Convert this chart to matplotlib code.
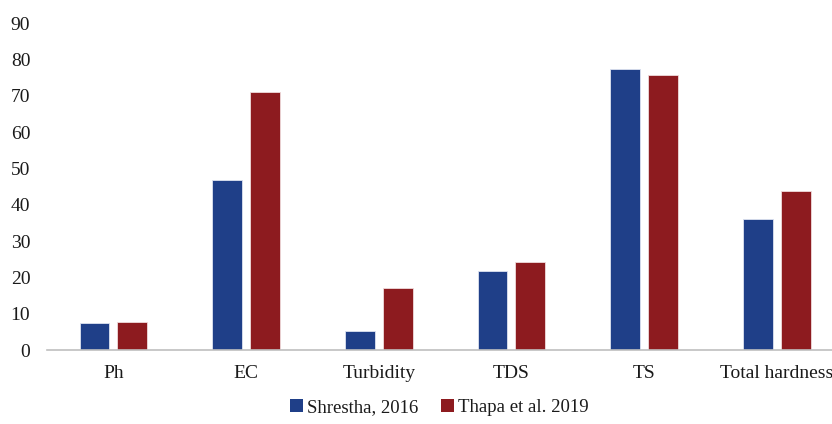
import matplotlib
matplotlib.use("Agg")
import matplotlib.pyplot as plt
import numpy as np
from matplotlib.patches import Patch

categories = ["Ph", "EC", "Turbidity", "TDS", "TS", "Total hardness"]
shrestha_2016 = [7.4, 46.8, 5.3, 21.8, 77.3, 36.1]
thapa_2019 = [7.8, 70.9, 17.1, 24.3, 75.6, 43.8]
series_labels = ["Shrestha, 2016", "Thapa et al. 2019"]
y_ticks = [0, 10, 20, 30, 40, 50, 60, 70, 80, 90]

blue = "#1f3f88"
red = "#8d1b1f"

plt.rcParams["font.family"] = ["Liberation Serif", "DejaVu Serif"]

fig = plt.figure(figsize=(8.32, 4.24), dpi=100)
ax = fig.add_axes([0.0565, 0.1745, 0.957, 0.771])

x = np.arange(len(categories))
w = 0.225
gap = 0.06
ax.bar(x - (w + gap) / 2, shrestha_2016, width=w, color=blue,
       edgecolor="#dde3f0", linewidth=0.6)
ax.bar(x + (w + gap) / 2, thapa_2019, width=w, color=red,
       edgecolor="#f0dcdc", linewidth=0.6)

ax.set_xlim(-0.5, len(categories) - 0.5)
ax.set_ylim(0, 90)
ax.set_yticks(y_ticks)
ax.set_xticks(x)
ax.set_xticklabels(categories)
ax.tick_params(axis="both", length=0, labelsize=14, colors="#1a1a1a")
ax.tick_params(axis="y", pad=12)
ax.tick_params(axis="x", pad=11)

for side in ["top", "right", "left"]:
    ax.spines[side].set_visible(False)
ax.spines["bottom"].set_color("#bfbfbf")
ax.spines["bottom"].set_linewidth(1.2)

handles = [Patch(facecolor=blue), Patch(facecolor=red)]
leg = fig.legend(handles, series_labels, loc="center", bbox_to_anchor=(0.528, 0.038),
                 ncol=2, frameon=False, fontsize=13.5, handlelength=0.7,
                 handleheight=0.7, handletextpad=0.2, columnspacing=1.2)
for t in leg.get_texts():
    t.set_color("#1a1a1a")

fig.savefig("out.png", dpi=100, facecolor="white")
